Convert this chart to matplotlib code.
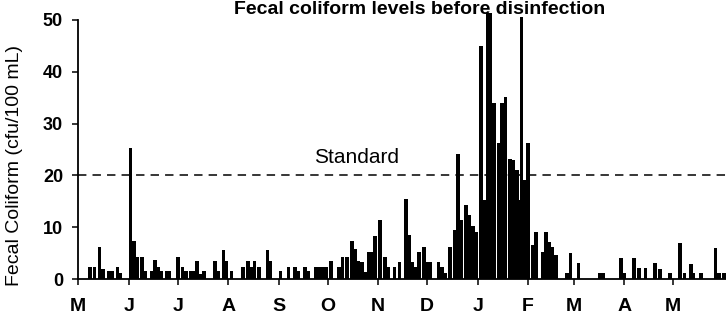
import matplotlib
matplotlib.use('Agg')
import matplotlib.pyplot as plt

plt.rcParams['font.family'] = 'Liberation Sans'

# -------------------------------
# Data: sampling day (days after 1 May) and fecal coliform (cfu/100 mL)
# -------------------------------
sample_day = [7, 10, 13, 15, 19, 21, 24, 26, 32, 34, 36, 39, 41, 45, 47, 49, 51, 54, 56,
              61, 64, 66, 69, 71, 73, 75, 77, 84, 86, 89, 91, 94,
              101, 104, 106, 108, 111, 116, 118, 124,
              129, 133, 135, 139, 141, 146, 148, 150, 152, 155,
              160, 162, 165, 168, 170, 172, 174, 176, 178, 180, 182, 185, 188, 190,
              194, 197, 201, 203, 205, 207, 209, 212, 214, 216, 221, 223, 225,
              228, 231, 233, 235, 238, 240, 242, 244, 247, 249, 251, 253, 255, 258, 260, 262,
              265, 267, 269, 270, 272, 274, 276, 279, 281, 285, 287, 289, 291, 293,
              300, 302, 307, 320, 322, 333, 335, 341, 344, 348, 354, 357,
              363, 369, 372, 376, 377, 382, 391, 393, 396]
fecal_coliform = [2.3, 2.3, 6.2, 2.0, 1.5, 1.5, 2.4, 1.2, 25.3, 7.3, 4.3, 4.3, 1.5, 1.5, 3.7, 2.3, 1.5, 1.5, 1.5,
                  4.3, 2.3, 1.5, 1.5, 1.5, 3.5, 1.0, 1.5, 3.5, 1.5, 5.6, 3.5, 1.5,
                  2.3, 3.5, 2.3, 3.5, 2.3, 5.6, 3.5, 1.5,
                  2.3, 2.3, 1.5, 2.3, 1.5, 2.3, 2.3, 2.3, 2.4, 3.4,
                  2.3, 4.3, 4.3, 7.3, 5.8, 3.5, 3.3, 1.4, 5.2, 5.3, 8.3, 11.3, 4.3, 2.3,
                  2.4, 3.3, 15.4, 8.5, 3.3, 2.4, 5.3, 6.2, 3.3, 3.3, 3.3, 2.4, 1.2,
                  6.2, 9.5, 24.2, 11.4, 14.3, 12.3, 10.2, 9.1, 45.0, 15.3, 51.3, 51.3, 34.0, 26.2, 34.0, 35.1,
                  23.1, 23.0, 21.0, 15.3, 50.6, 19.1, 26.2, 6.6, 9.1, 5.3, 9.1, 7.2, 6.1, 4.6,
                  1.2, 5.1, 3.0, 1.1, 1.1, 4.0, 1.2, 4.0, 2.1, 2.1, 3.0, 1.9,
                  1.2, 7.0, 1.2, 2.9, 1.2, 1.2, 5.9, 1.2, 1.2]

month_labels = ['M', 'J', 'J', 'A', 'S', 'O', 'N', 'D', 'J', 'F', 'M', 'A', 'M']
month_start = [0, 31, 61, 92, 123, 153, 184, 214, 245, 276, 304, 335, 365]
standard = 20

# -------------------------------
# Plot
# -------------------------------
fig = plt.figure(figsize=(7.26, 3.18), dpi=100)
ax = fig.add_axes([78.3 / 726, 1 - 279 / 318, 1 - 78.3 / 726, 259 / 318])

ax.bar(sample_day, fecal_coliform, width=2.2, color='black', clip_on=False)
ax.axhline(standard, color='black', ls=(0, (5.5, 4)), lw=1.1)
ax.text(171, 23.4, 'Standard', ha='center', va='center', fontsize=15)

ax.set_xlim(0, 397.4)
ax.set_ylim(0, 50)
ax.set_xticks(month_start)
ax.set_xticklabels(month_labels, fontsize=14, fontweight='bold')
ax.set_yticks([0, 10, 20, 30, 40, 50])
ax.set_yticklabels(['0', '10', '20', '30', '40', '50'], fontsize=13, fontweight='bold')
ax.tick_params(axis='x', direction='out', length=4, width=1.1, pad=10)
ax.tick_params(axis='y', direction='out', length=4, width=1.1, pad=7)

for side in ['top', 'right']:
    ax.spines[side].set_visible(False)
for side in ['left', 'bottom']:
    ax.spines[side].set_linewidth(1.3)

fig.text(420 / 726, 1 - 10 / 318, 'Fecal coliform levels before disinfection',
         ha='center', va='center', fontsize=14, fontweight='bold')
fig.text(15 / 726, 1 - 165 / 318, 'Fecal Coliform (cfu/100 mL)',
         ha='center', va='center', rotation=90, fontsize=14)

fig.savefig('out.png', dpi=100)
